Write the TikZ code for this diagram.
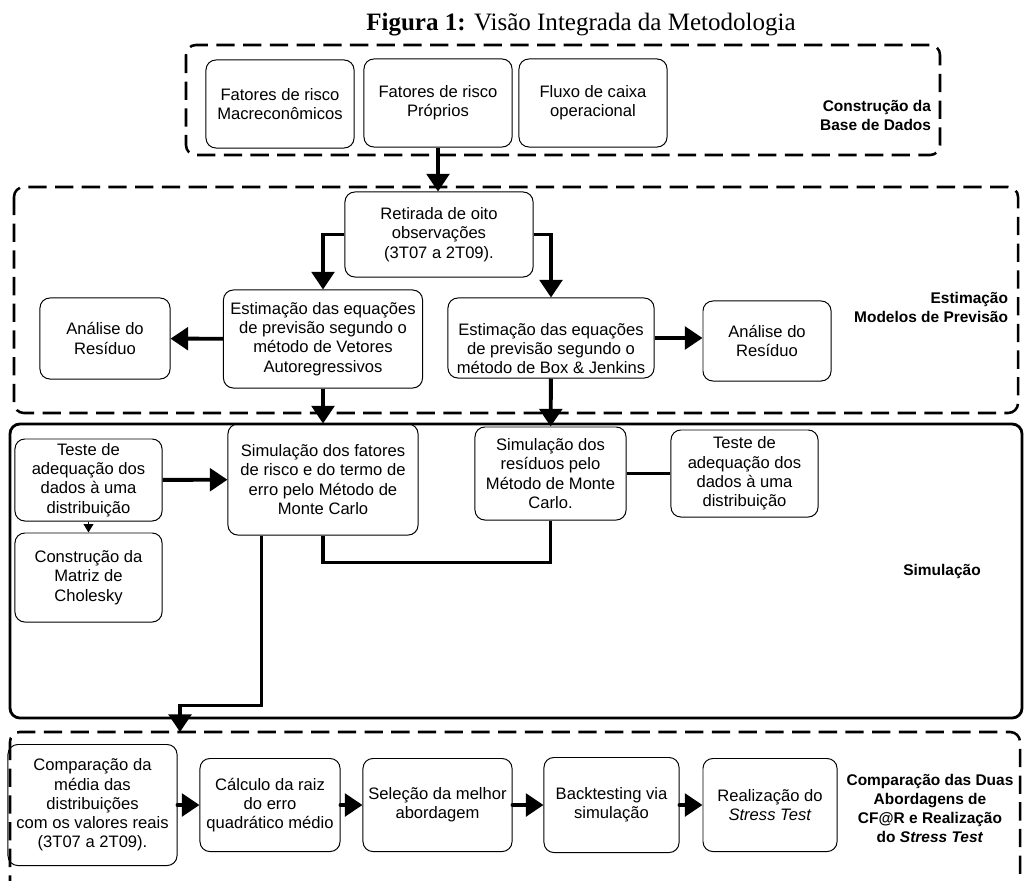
\documentclass[tikz,border=0pt]{standalone}
\usepackage{fontspec}
\setmainfont{Liberation Serif}
\setsansfont{Liberation Sans}
\usetikzlibrary{arrows.meta}

\begin{document}
\begin{tikzpicture}[x=0.025cm,y=-0.025cm,
	box/.style={draw,rounded corners=7pt,align=center,inner sep=1pt,line width=0.7pt,font=\sffamily\fontsize{11.8}{13.7}\selectfont},
	frame/.style={line width=1.8pt,rounded corners=7pt},
	dashframe/.style={frame,dash pattern=on 13pt off 6pt},
	sect/.style={font=\sffamily\bfseries\fontsize{11}{13.5}\selectfont},
	arr/.style={line width=2.8pt,-{Triangle[length=12.5pt,width=16pt]}},
	link/.style={line width=2.8pt}]
	\useasboundingbox (0,0) rectangle (1024,880);
	\node[font=\fontsize{17.8}{20}\selectfont] (t) at (581,25) {\textbf{Figura 1:} Visão Integrada da Metodologia};
	\draw[dashframe] (186,45) rectangle (940,155);
	\draw[dashframe] (14,187) rectangle (1018,413);
	\draw[frame,line width=2pt] (10,424) rectangle (1022,718);
	\draw[dashframe] (10,732) rectangle (1020,895);
	\node[sect,align=right,anchor=east] (s1) at (936,115) {Construção da\\Base de Dados};
	\node[sect,align=right,anchor=east] (s2) at (1013,307) {Estimação\\Modelos de Previsão};
	\node[sect] (s3) at (942,571) {Simulação};
	\node[sect,align=center] (s4) at (930,808) {Comparação das Duas\\Abordagens de\\CF@R e Realização\\do \textit{Stress Test}};
	\node[box,minimum width=3.7cm,minimum height=2.2cm] (1) at (280,104) {Fatores de risco\\Macreconômicos};
	\node[box,minimum width=3.7cm,minimum height=2.2cm] (2) at (438,103) {Fatores de risco\\Próprios};
	\node[box,minimum width=3.7cm,minimum height=2.2cm] (3) at (593,103) {Fluxo de caixa\\operacional};
	\node[box,minimum width=4.7cm,minimum height=2.125cm] (4) at (439,234.5) {Retirada de oito\\observações\\(3T07 a 2T09).};
	\node[box,minimum width=3.25cm,minimum height=2.025cm] (5) at (105,338.5) {Análise do\\Resíduo};
	\node[box,minimum width=4.975cm,minimum height=2.45cm] (6) at (323,339) {Estimação das equações\\de previsão segundo o\\método de Vetores\\Autoregressivos};
	\node[box,minimum width=5.15cm,minimum height=2cm] (7) at (551,338) {\strut\\Estimação das equações\\de previsão segundo o\\método de Box \& Jenkins};
	\node[box,minimum width=3.2cm,minimum height=2cm] (8) at (767,341) {Análise do\\Resíduo};
	\node[box,minimum width=3.675cm,minimum height=2.05cm] (9) at (88.5,480) {Teste de\\adequação dos\\dados à uma\\distribuição};
	\node[box,minimum width=3.675cm,minimum height=2.225cm] (10) at (88.5,577.5) {Construção da\\Matriz de\\Cholesky};
	\node[box,minimum width=4.75cm,minimum height=2.775cm] (11) at (323,479.5) {Simulação dos fatores\\de risco e do termo de\\erro pelo Método de\\Monte Carlo};
	\node[box,minimum width=3.775cm,minimum height=2.325cm] (12) at (550.5,473.5) {Simulação dos\\resíduos pelo\\Método de Monte\\Carlo.};
	\node[box,minimum width=3.675cm,minimum height=2.175cm] (13) at (744.5,473.5) {Teste de\\adequação dos\\dados à uma\\distribuição};
	\node[box,minimum width=4.225cm,minimum height=3.025cm] (14) at (92.5,805) {Comparação da\\média das\\distribuições\\com os valores reais\\(3T07 a 2T09).};
	\node[box,minimum width=3.5cm,minimum height=2.325cm] (15) at (270,805) {Cálculo da raiz\\do erro\\quadrático médio};
	\node[box,minimum width=3.725cm,minimum height=2.325cm] (16) at (437.5,805) {Seleção da melhor\\abordagem};
	\node[box,minimum width=3.375cm,minimum height=2.375cm] (17) at (611.5,805) {Backtesting via\\simulação};
	\node[box,minimum width=3.35cm,minimum height=2.325cm] (18) at (770,805) {Realização do\\\textit{Stress Test}};
	\coordinate (c) at (180,732);
	\draw[arr] (2.south) -- (2.south |- 4.north);
	\draw[arr] (4.west) -| (6.north);
	\draw[arr] (4.east) -| (7.north);
	\draw[arr] (6) -- (5);
	\draw[arr] (7.east) -- (7.east -| 8.west);
	\draw[arr] (6) -- (11);
	\draw[arr] (7) -- (12);
	\draw[arr] (9) -- (11);
	\draw[line width=0.7pt,-{Triangle[length=6pt,width=7pt]}] (9) -- (10);
	\draw[link] (12) -- (13);
	\draw[link] (11.south) -- ++(0,27) -| (12.south);
	\draw[arr] ([xshift=0.85cm]11.south west) -- ++(0,170) -| (c);
	\foreach \a/\b in {14/15,15/16,16/17,17/18}
		\draw[arr,line cap=round] (\a) -- (\b);
\end{tikzpicture}
\end{document}
